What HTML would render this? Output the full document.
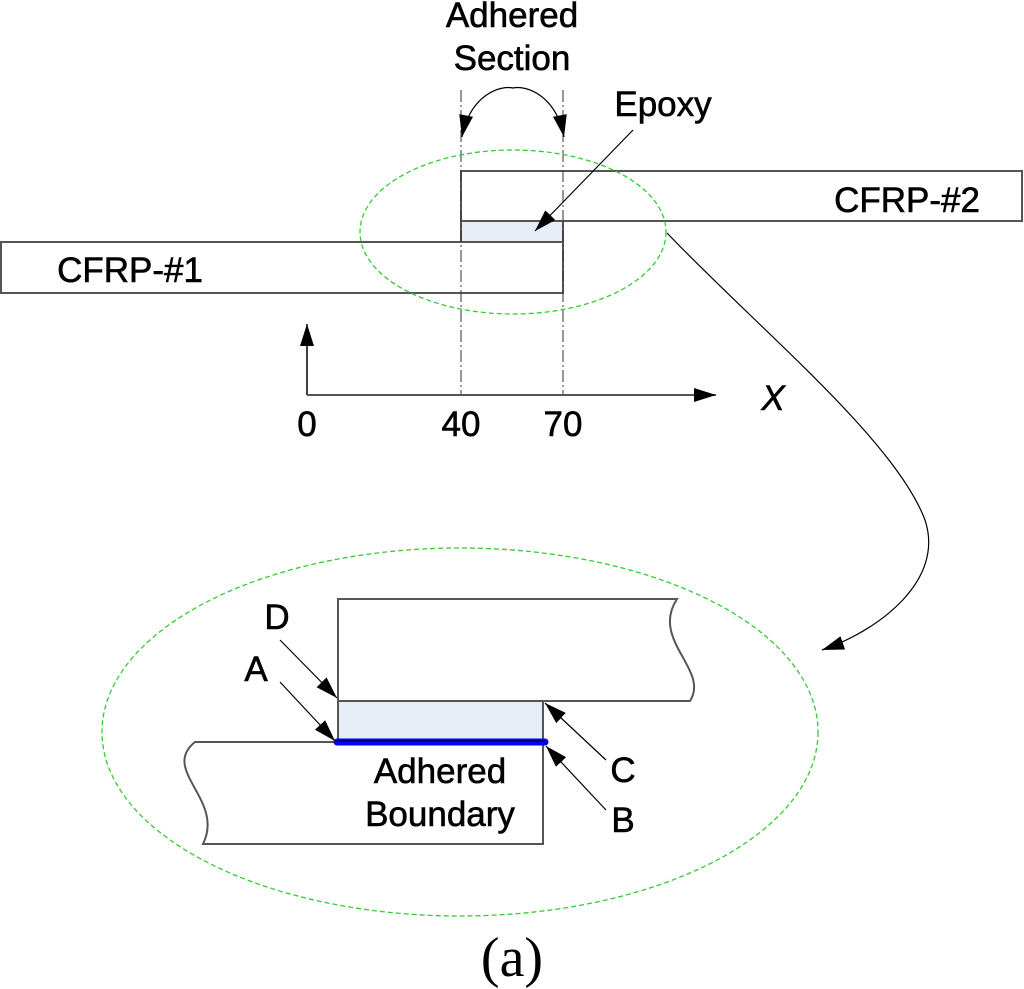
<!DOCTYPE html>
<html><head><style>body{margin:0;background:#fff}svg{display:block}</style></head><body>
<svg width="1024" height="989" viewBox="0 0 1024 989" xmlns="http://www.w3.org/2000/svg" font-family="Liberation Sans, sans-serif">
<defs>
<marker id="ab" viewBox="0 0 10 10" refX="10" refY="5" markerWidth="22" markerHeight="14" markerUnits="userSpaceOnUse" orient="auto-start-reverse" preserveAspectRatio="none"><path d="M0,0L10,5L0,10z" fill="#000"/></marker></defs>
<g stroke="#555" stroke-width="2" fill="#fff">
<rect x="461" y="171" width="561" height="50"/>
<rect x="1" y="242" width="562" height="51"/>
<rect x="461" y="221" width="102" height="21" fill="#e6edf7"/>
</g>
<g stroke="#333" stroke-width="1" stroke-dasharray="12,3,2,3">
<line x1="461" y1="90" x2="461" y2="395"/><line x1="563" y1="90" x2="563" y2="395"/></g>
<ellipse cx="513" cy="232" rx="153" ry="82" fill="none" stroke="#3c3" stroke-width="1.3" stroke-dasharray="5,3"/>
<path d="M462,137 C470,95 500,85 513,88 C526,85 556,95 564,137" fill="none" stroke="#000" stroke-width="1.2" marker-start="url(#ab)" marker-end="url(#ab)"/>
<line x1="633" y1="130" x2="535" y2="231" stroke="#000" stroke-width="1.2" marker-end="url(#ab)"/>
<path d="M667,233 C760,330 895,440 925,520 C945,580 880,630 822,650" fill="none" stroke="#000" stroke-width="1.2" marker-end="url(#ab)"/>
<line x1="307" y1="395" x2="307" y2="324" stroke="#000" stroke-width="1.5" marker-end="url(#ab)"/>
<line x1="307" y1="395" x2="716" y2="395" stroke="#555" stroke-width="2" marker-end="url(#ab)"/>
<g font-size="35" text-anchor="middle" fill="#000" stroke="#000" stroke-width="0.6">
<text x="512" y="27">Adhered</text><text x="512" y="70">Section</text>
<text x="663" y="116">Epoxy</text>
<text x="907" y="212">CFRP-#2</text>
<text x="130" y="282">CFRP-#1</text>
<text x="307" y="436">0</text><text x="461" y="436">40</text><text x="563" y="436">70</text>
<text x="773" y="410" font-style="italic">X</text>
</g>
<ellipse cx="460" cy="732" rx="358" ry="184" fill="none" stroke="#3c3" stroke-width="1.3" stroke-dasharray="5,3"/>
<g stroke="#555" stroke-width="2" fill="#fff">
<path d="M338,701 L338,599 L677,599 C650,640 710,670 690,701 Z"/>
<path d="M543,742 L543,844 L203,844 C225,800 160,770 195,742 Z"/>
<rect x="338" y="701" width="205" height="41" fill="#e6edf7"/>
</g>
<line x1="337" y1="742" x2="545" y2="742" stroke="#0000ff" stroke-width="7" stroke-linecap="round"/>
<line x1="337" y1="741" x2="545" y2="741" stroke="#000" stroke-width="1"/>
<g stroke="#000" stroke-width="1.2">
<line x1="280" y1="640" x2="337" y2="698" marker-end="url(#ab)"/>
<line x1="280" y1="682" x2="335" y2="741" marker-end="url(#ab)"/>
<line x1="606" y1="760" x2="545" y2="703" marker-end="url(#ab)"/>
<line x1="606" y1="810" x2="546" y2="746" marker-end="url(#ab)"/>
</g>
<g font-size="35" text-anchor="middle" fill="#000" stroke="#000" stroke-width="0.6">
<text x="277" y="629">D</text><text x="256" y="681">A</text>
<text x="623" y="782">C</text><text x="623" y="832">B</text>
<text x="440" y="783">Adhered</text><text x="440" y="826">Boundary</text>
</g>
<text x="512" y="976" font-family="Liberation Serif, serif" font-size="56" text-anchor="middle">(a)</text>
</svg></body></html>
